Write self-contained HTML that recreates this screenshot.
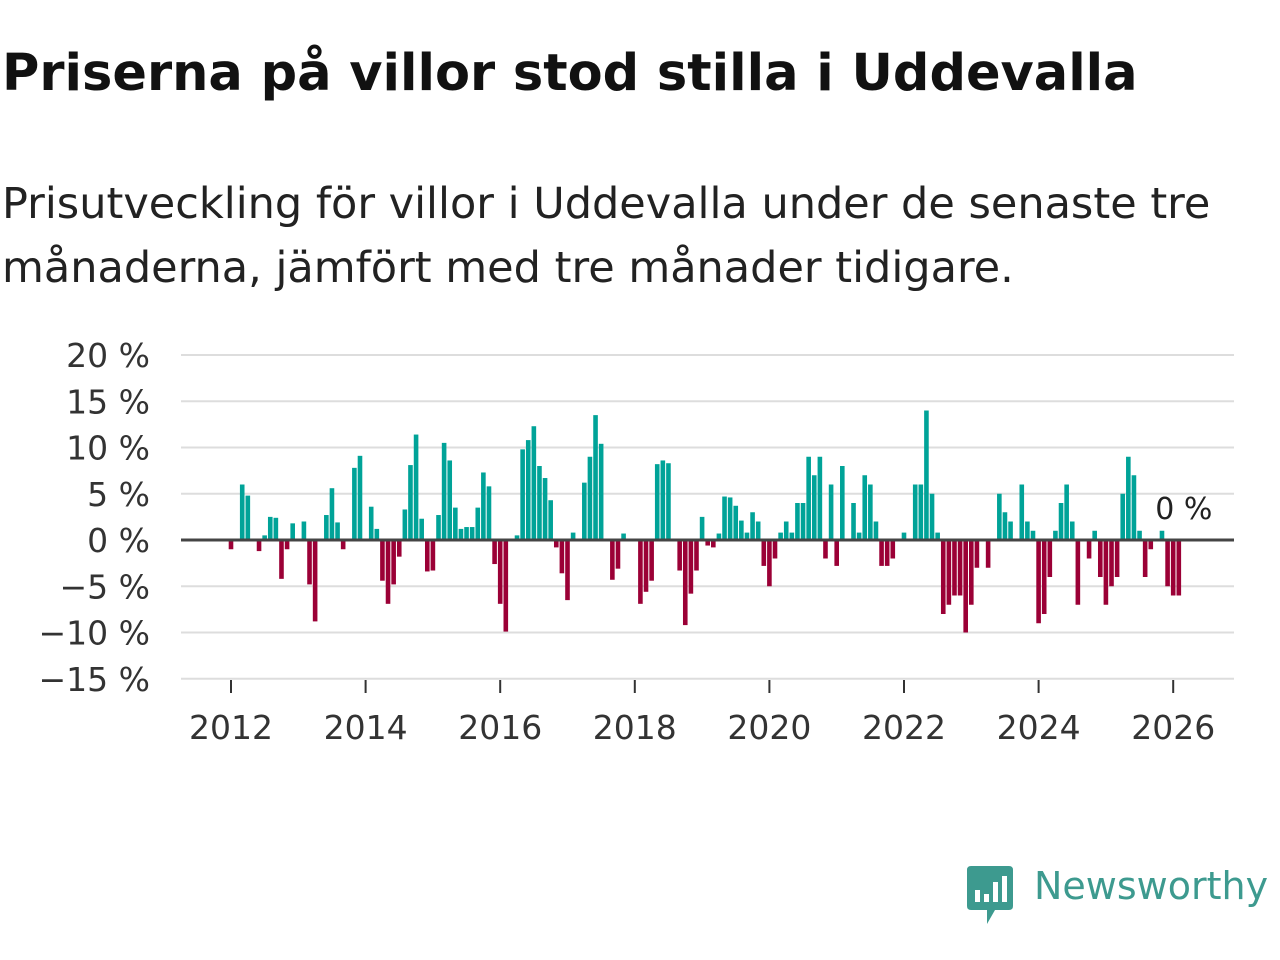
<!DOCTYPE html>
<html><head><meta charset="utf-8">
<style>
body{margin:0;background:#fff;width:1280px;height:960px;overflow:hidden;font-family:"Liberation Sans","DejaVu Sans",sans-serif;}
h1{position:absolute;left:2px;top:44px;margin:0;font-size:51px;font-weight:bold;color:#111;letter-spacing:0px;font-family:"DejaVu Sans","Liberation Sans",sans-serif;}
.sub{position:absolute;left:2px;top:172px;margin:0;font-size:43px;line-height:64px;color:#222;font-family:"DejaVu Sans","Liberation Sans",sans-serif;font-weight:normal;}
svg{position:absolute;left:0;top:0}
</style></head><body>
<h1>Priserna på villor stod stilla i Uddevalla</h1>
<p class="sub">Prisutveckling för villor i Uddevalla under de senaste tre<br>månaderna, jämfört med tre månader tidigare.</p>
<svg id="chart" width="1280" height="960"></svg>
<div style="position:absolute;left:965px;top:866px;">
<svg width="50" height="60" viewBox="0 0 50 60"><path d="M2 4 Q2 0 6 0 H44 Q48 0 48 4 V40 Q48 44 44 44 H30 L22 58 L22 44 H6 Q2 44 2 40Z" fill="#3d9a8f"/><rect x="10" y="24" width="5" height="12" fill="#fff"/><rect x="19" y="28" width="5" height="8" fill="#fff"/><rect x="28" y="16" width="5" height="20" fill="#fff"/><rect x="37" y="10" width="5" height="26" fill="#fff"/></svg>
<span style="position:absolute;left:69px;top:-2px;font-size:38px;color:#3d9a8f;font-family:'DejaVu Sans','Liberation Sans',sans-serif;white-space:nowrap;">Newsworthy</span>
</div>
<script>
const startYear = 2012;
const yTicks = [20,15,10,5,0,-5,-10,-15];
const xTickYears = [2012,2014,2016,2018,2020,2022,2024,2026];
const values = [
-1,0,6,4.8,0,-1.2,0.5,2.5,2.4,-4.2,-1,1.8,0,2,-4.8,-8.8,0,2.7,5.6,1.9,
-1,0,7.8,9.1,0,3.6,1.2,-4.4,-6.9,-4.8,-1.8,3.3,8.1,11.4,2.3,-3.4,-3.3,2.7,10.5,8.6,
3.5,1.2,1.4,1.4,3.5,7.3,5.8,-2.6,-6.9,-9.9,0,0.5,9.8,10.8,12.3,8,6.7,4.3,-0.8,-3.6,
-6.5,0.8,0,6.2,9,13.5,10.4,0,-4.3,-3.1,0.7,0,0,-6.9,-5.6,-4.4,8.2,8.6,8.3,0,
-3.3,-9.2,-5.8,-3.3,2.5,-0.6,-0.8,0.7,4.7,4.6,3.7,2.1,0.8,3,2,-2.8,-5,-2,0.8,2,
0.8,4,4,9,7,9,-2,6,-2.8,8,0,4,0.8,7,6,2,-2.8,-2.8,-2,0,
0.8,0,6,6,14,5,0.8,-8,-7,-6,-6,-10,-7,-3,0,-3,0,5,3,2,
0,6,2,1,-9,-8,-4,1,4,6,2,-7,0,-2,1,-4,-7,-5,-4,5,
9,7,1,-4,-1,0,1,-5,-6,-6
];
const lastLabel = "0 %";
const NS='http://www.w3.org/2000/svg';
const svg=document.getElementById('chart');
const x0=181,x1=1234,year0px=231,pxPerYear=67.3;
function xScale(monthIdx){return year0px+monthIdx*pxPerYear/12;}
function yScale(v){return 540-v*9.25;}
function mk(t,a){const e=document.createElementNS(NS,t);for(const k in a)e.setAttribute(k,a[k]);svg.appendChild(e);return e;}
yTicks.forEach(v=>{
  const g=mk('line',{x1:x0,x2:x1,y1:yScale(v),y2:yScale(v),stroke:'#ddd','stroke-width':2});
  
  
  const t=mk('text',{x:150,y:yScale(v)+12,'text-anchor':'end','font-size':33,fill:'#333','font-family':'DejaVu Sans, Liberation Sans, sans-serif'});
  t.textContent=(v<0?'\u2212'+(-v):v)+' %';
  
  
});
xTickYears.forEach(yr=>{
  const x=xScale((yr-startYear)*12);
  const l=mk('line',{x1:x,x2:x,y1:680,y2:693,stroke:'#333','stroke-width':2});
  
  
  const t=mk('text',{x:x,y:739,'text-anchor':'middle','font-size':33,fill:'#333','font-family':'DejaVu Sans, Liberation Sans, sans-serif'});
  t.textContent=yr;
  
  
});
values.forEach((v,i)=>{
  if(v===0)return;
  const x=xScale(i);
  const y=v>0?yScale(v):yScale(0);
  const r=mk('rect',{x:x-2.3,y:y,width:4.6,height:Math.abs(yScale(v)-yScale(0)),fill:v>0?'#00a398':'#9b0036'});
  
  
});
const z=mk('line',{x1:x0,x2:x1,y1:yScale(0),y2:yScale(0),stroke:'#444','stroke-width':3});


const lt=mk('text',{x:xScale(values.length-1)+5,y:519,'text-anchor':'middle','font-size':30,fill:'#222','font-family':'DejaVu Sans, Liberation Sans, sans-serif'});
lt.textContent=lastLabel;


</script>
</body></html>
